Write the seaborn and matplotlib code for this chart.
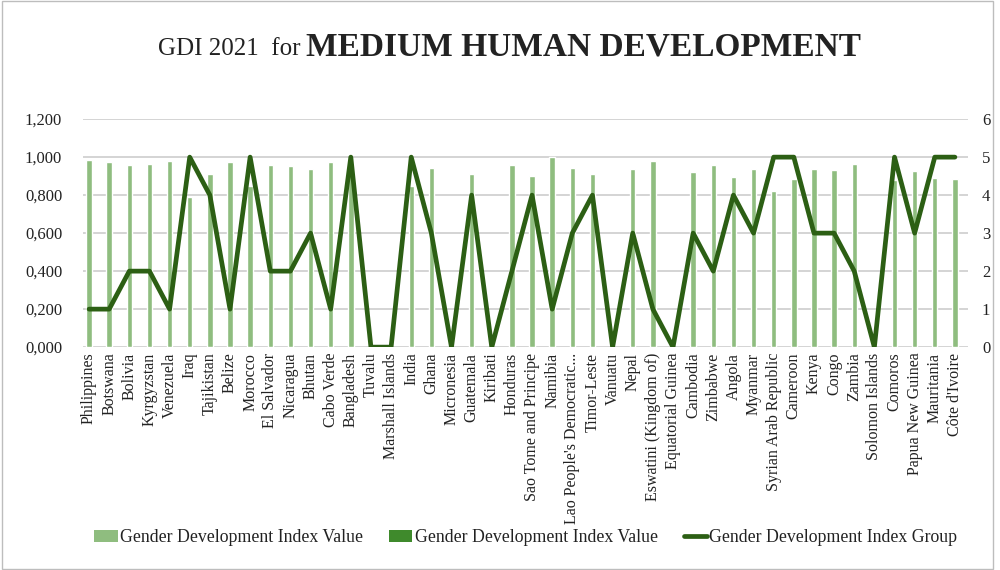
import matplotlib
matplotlib.use("Agg")

import matplotlib.pyplot as plt
import numpy as np
import pandas as pd
import seaborn as sns
from matplotlib.lines import Line2D
from matplotlib.patches import Patch, Rectangle
from matplotlib.ticker import FuncFormatter, MultipleLocator

countries = [
    "Philippines", "Botswana", "Bolivia", "Kyrgyzstan", "Venezuela", "Iraq",
    "Tajikistan", "Belize", "Morocco", "El Salvador", "Nicaragua", "Bhutan",
    "Cabo Verde", "Bangladesh", "Tuvalu", "Marshall Islands", "India", "Ghana",
    "Micronesia", "Guatemala", "Kiribati", "Honduras", "Sao Tome and Principe",
    "Namibia", "Lao People's Democratic...", "Timor-Leste", "Vanuatu", "Nepal",
    "Eswatini (Kingdom of)", "Equatorial Guinea", "Cambodia", "Zimbabwe",
    "Angola", "Myanmar", "Syrian Arab Republic", "Cameroon", "Kenya", "Congo",
    "Zambia", "Solomon Islands", "Comoros", "Papua New Guinea", "Mauritania",
    "Côte d'Ivoire",
]

# GDI value (left axis); NaN where no bar is shown
gdi_value = [
    0.986, 0.977, 0.960, 0.965, 0.982, 0.790,
    0.909, 0.974, 0.850, 0.960, 0.953, 0.935,
    0.977, 0.900, np.nan, np.nan, 0.850, 0.944,
    np.nan, 0.912, np.nan, 0.960, 0.902,
    1.000, 0.944, 0.912, np.nan, 0.940,
    0.982, np.nan, 0.923, 0.960,
    0.898, 0.940, 0.823, 0.884, 0.940, 0.932,
    0.965, np.nan, 0.880, 0.926, 0.888,
    0.884,
]

# GDI group (right axis)
gdi_group = [
    1, 1, 2, 2, 1, 5,
    4, 1, 5, 2, 2, 3,
    1, 5, 0, 0, 5, 3,
    0, 4, 0, 2, 4,
    1, 3, 4, 0, 3,
    1, 0, 3, 2,
    4, 3, 5, 5, 3, 3,
    2, 0, 5, 3, 5,
    5,
]

BAR_LIGHT = "#8fbd7f"
BAR_DARK = "#3f8a2c"
LINE_COLOR = "#2c5f14"
GRID_COLOR = "#c9c9c9"
TEXT_COLOR = "#222222"

df = pd.DataFrame({"country": countries, "value": gdi_value, "group": gdi_group})
df["pos"] = np.arange(len(df))

sns.set_style("white")
plt.rcParams["font.family"] = ["Liberation Serif", "DejaVu Serif"]
plt.rcParams["text.color"] = TEXT_COLOR

fig = plt.figure(figsize=(10, 5.7), dpi=100)
ax = fig.add_axes([0.083, 0.391, 0.885, 0.4])

sns.barplot(
    data=df, x="country", y="value", order=countries, color=BAR_LIGHT,
    saturation=1, width=0.27, errorbar=None, ax=ax,
)

ax2 = ax.twinx()
sns.lineplot(
    data=df, x="pos", y="group", sort=False, color=LINE_COLOR,
    linewidth=3.4, ax=ax2,
)

ax.set_xlim(-0.3, len(countries) - 0.35)
ax.set_ylim(0, 1.2)
ax2.set_ylim(0, 6)
ax.yaxis.set_major_locator(MultipleLocator(0.2))
ax2.yaxis.set_major_locator(MultipleLocator(1))
ax.yaxis.set_major_formatter(FuncFormatter(lambda v, _: f"{v:.3f}".replace(".", ",")))

ax.set_axisbelow(True)
ax.grid(axis="y", color=GRID_COLOR, linewidth=1.1)
ax.grid(axis="x", visible=False)
ax2.grid(False)

for a in (ax, ax2):
    for s in a.spines.values():
        s.set_visible(False)
    a.set_xlabel("")
    a.set_ylabel("")

ax.tick_params(axis="y", length=0, pad=15, labelsize=12, labelcolor=TEXT_COLOR)
ax2.tick_params(axis="y", length=0, pad=10, labelsize=12, labelcolor=TEXT_COLOR)
ax.tick_params(axis="x", length=0, pad=4, labelsize=11.5, labelcolor=TEXT_COLOR)
ax.set_xticks(range(len(countries)))
ax.set_xticklabels(countries, rotation=90, ha="center", va="top")

# title in two parts
fig.text(0.300, 0.903, "GDI 2021  for", fontsize=18, ha="right", va="baseline")
fig.text(0.306, 0.903, "MEDIUM HUMAN DEVELOPMENT", fontsize=24,
         fontweight="bold", ha="left", va="baseline")

handles = [
    Patch(facecolor=BAR_LIGHT, edgecolor="none"),
    Patch(facecolor=BAR_DARK, edgecolor="none"),
    Line2D([0], [0], color=LINE_COLOR, linewidth=3.4),
]
labels = [
    "Gender Development Index Value",
    "Gender Development Index Value",
    "Gender Development Index Group",
]
fig.legend(
    handles, labels, loc="center", bbox_to_anchor=(0.526, 0.057), ncol=3,
    frameon=False, fontsize=12.8, columnspacing=1.45, handlelength=1.3,
    handletextpad=0.15, handleheight=0.7,
)

fig.patches.append(Rectangle((0.002, 0.002), 0.991, 0.996, transform=fig.transFigure,
                             fill=False, edgecolor="#bdbdbd", linewidth=1))

fig.savefig("out.png", dpi=100)
